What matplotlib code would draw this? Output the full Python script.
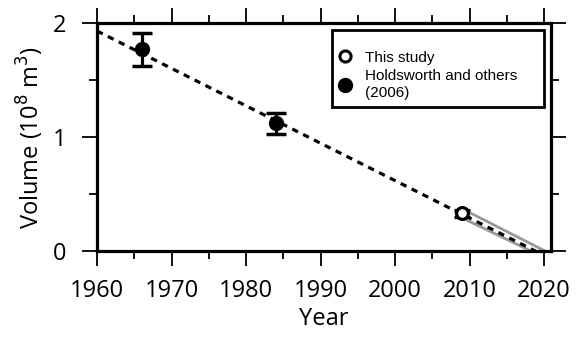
import matplotlib
matplotlib.use("Agg")
import matplotlib.pyplot as plt
from matplotlib.patches import Rectangle
from matplotlib.lines import Line2D

# Data
hold_years = [1966, 1984]
hold_vol = [1.77, 1.12]
hold_err_low = [0.15, 0.09]
hold_err_high = [0.14, 0.09]

study_year = [2009]
study_vol = [0.33]
study_err = [0.03]

trend_x = [1960, 2018.8]
trend_y = [1.93, 0.0]

gray_upper_x = [2009, 2020.1]
gray_upper_y = [0.37, 0.0]
gray_lower_x = [2009, 2018.2]
gray_lower_y = [0.29, 0.0]

xticks = [1960, 1970, 1980, 1990, 2000, 2010, 2020]
yticks = [0, 1, 2]

plt.rcParams['font.family'] = ['Open Sans', 'DejaVu Sans']

fig = plt.figure(figsize=(5.86, 3.38), dpi=100)
ax = fig.add_axes([0.1655, 0.2574, 0.7747, 0.6746])

ax.plot(gray_upper_x, gray_upper_y, color='#999999', lw=2.0, zorder=2, solid_capstyle='butt')
ax.plot(gray_lower_x, gray_lower_y, color='#999999', lw=2.0, zorder=2, solid_capstyle='butt')
ax.plot(trend_x, trend_y, color='black', lw=2.3, linestyle=(0, (2.0, 1.8)), zorder=3)

ax.errorbar(hold_years, hold_vol, yerr=[hold_err_low, hold_err_high], fmt='o',
            color='black', ms=10, elinewidth=2.3, capsize=7, capthick=2.5, zorder=4)
ax.errorbar(study_year, study_vol, yerr=study_err, fmt='o', color='black',
            mfc='white', mec='black', mew=2.3, ms=8.5, elinewidth=2.3,
            capsize=6, capthick=2.5, zorder=5)

ax.set_xlim(1960, 2020.9)
ax.set_ylim(0, 2)
ax.set_xticks(xticks)
ax.set_yticks(yticks)
ax.set_xticks([1965, 1975, 1985, 1995, 2005, 2015], minor=True)
ax.set_yticks([0.5, 1.5], minor=True)
ax.tick_params(which='major', direction='out', length=11, width=1.3,
               top=True, right=True, labelsize=17)
ax.tick_params(axis='x', which='major', pad=9)
ax.tick_params(axis='y', which='major', pad=11)
ax.tick_params(which='minor', direction='out', length=5.5, width=1.3,
               top=True, right=True)
for s in ax.spines.values():
    s.set_linewidth(2.3)

ax.set_xlabel('Year', fontsize=17, labelpad=3)
ax.set_ylabel('Volume (10$^{8}$ m$^{3}$)', fontsize=17, labelpad=5)

# Legend box
rect = Rectangle((0.518, 0.632), 0.467, 0.337, transform=ax.transAxes,
                 fill=True, facecolor='white', edgecolor='black', lw=2.0, zorder=6)
ax.add_patch(rect)
handles = [
    Line2D([], [], marker='o', ls='none', mfc='white', mec='black', mew=2.2, ms=8, color='black'),
    Line2D([], [], marker='o', ls='none', color='black', ms=10),
]
leg = ax.legend(handles, ['This study', 'Holdsworth and others\n(2006)'],
                loc='upper left', bbox_to_anchor=(0.52, 0.905), frameon=False,
                prop={'family': 'Liberation Sans', 'size': 11},
                handlelength=0.8, handletextpad=0.9, labelspacing=0.3,
                borderaxespad=0)
leg.set_zorder(7)

fig.savefig('out.png', dpi=100)
